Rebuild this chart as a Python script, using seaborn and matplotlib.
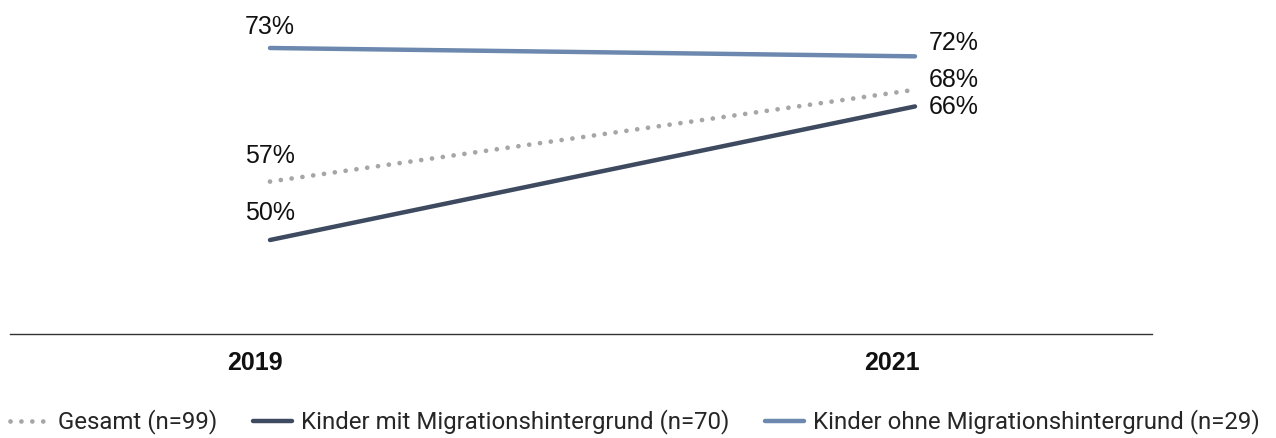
import matplotlib
matplotlib.use("Agg")
import matplotlib.pyplot as plt
import matplotlib.transforms as mtransforms
import seaborn as sns
import pandas as pd

years = [2019, 2021]
year_labels = ["2019", "2021"]
series_names = ["Gesamt (n=99)",
                "Kinder mit Migrationshintergrund (n=70)",
                "Kinder ohne Migrationshintergrund (n=29)"]
gesamt = [57, 68]
mit_migration = [50, 66]
ohne_migration = [73, 72]

colors = ["#A6A6A6", "#3E4A5F", "#6C88AE"]

sns.set_theme(style="white")
plt.rcParams["font.family"] = ["Roboto", "DejaVu Sans"]

fig = plt.figure(figsize=(12.76, 4.38), dpi=100)
W, H = 1276, 438
ax = fig.add_axes([10 / W, (H - 334) / H, 1142 / W, 334 / H])

data = [gesamt, mit_migration, ohne_migration]
for name, vals, col, i in zip(series_names, data, colors, range(3)):
    df = pd.DataFrame({"Jahr": years, "Wert": vals})
    if i == 0:
        sns.lineplot(data=df, x="Jahr", y="Wert", ax=ax, color=col, lw=3.4,
                     linestyle=(0, (0.01, 2.3)), solid_capstyle="round",
                     dash_capstyle="round", label=name)
    else:
        sns.lineplot(data=df, x="Jahr", y="Wert", ax=ax, color=col, lw=3.2,
                     solid_capstyle="round", label=name)

ax.set_xlim(2018.1938, 2021.7349)
ax.set_ylim(38.74, 78.75)

label_font = ["Liberation Sans", "DejaVu Sans"]
left_offsets = {0: 18.7, 1: 19.4, 2: 14.8}
right_offsets = {0: 7.0, 1: -0.4, 2: 9.3}
for i, vals in enumerate(data):
    ax.annotate(f"{vals[0]}%", xy=(years[0], vals[0]),
                xytext=(0, left_offsets[i]), textcoords="offset points",
                ha="center", va="center", fontsize=18, color="#111111",
                family=label_font)
    ax.annotate(f"{vals[1]}%", xy=(years[1], vals[1]),
                xytext=(10, right_offsets[i]), textcoords="offset points",
                ha="left", va="center", fontsize=18, color="#111111",
                family=label_font)

for s in ["top", "right", "left"]:
    ax.spines[s].set_visible(False)
ax.spines["bottom"].set_color("#333333")
ax.spines["bottom"].set_linewidth(1.0)
ax.set_yticks([])
ax.set_xticks(years)
ax.set_xticklabels(year_labels, fontsize=18, fontweight="bold",
                   color="#111111", family=label_font)
ax.tick_params(axis="x", length=0, pad=12)
shifts = [-15, -23]
for lbl, sh in zip(ax.get_xticklabels(), shifts):
    off = mtransforms.ScaledTranslation(sh / 100, 0, fig.dpi_scale_trans)
    lbl.set_transform(lbl.get_transform() + off)
ax.set_xlabel("")
ax.set_ylabel("")

handles, labels = ax.get_legend_handles_labels()
ax.get_legend().remove()
fig.legend(handles, labels, loc="center", bbox_to_anchor=(0.4975, 1 - 422 / H),
           ncol=3, frameon=False, fontsize=17.3, handlelength=1.6,
           handletextpad=0.38, columnspacing=1.5)

fig.savefig("out.png", dpi=100)
